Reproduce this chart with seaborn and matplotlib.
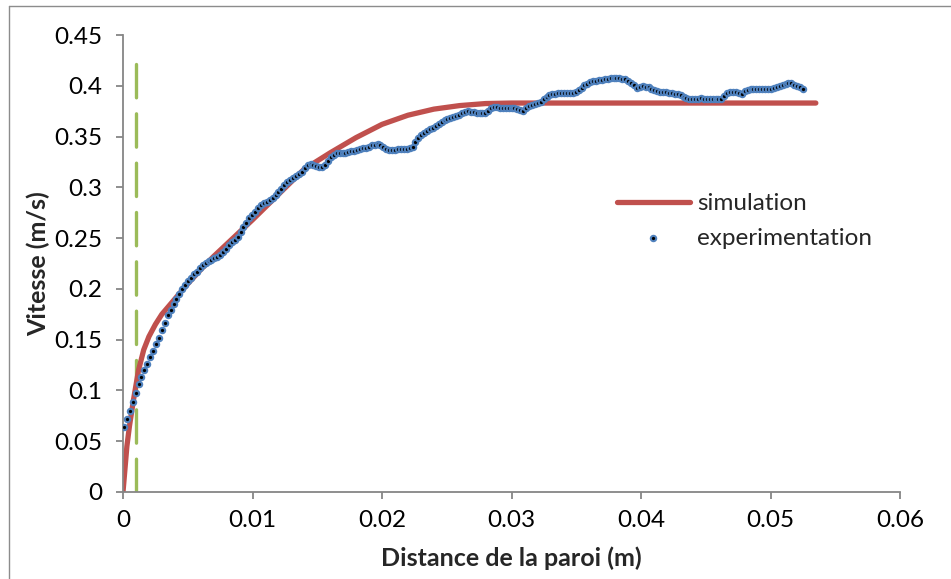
import numpy as np
import pandas as pd
import matplotlib
matplotlib.use("Agg")
import matplotlib.pyplot as plt
from matplotlib.lines import Line2D
from matplotlib.ticker import FuncFormatter
import seaborn as sns

# ---------------- data ----------------
sim_x = [0.0, 0.0001, 0.0003, 0.0005, 0.0008, 0.0012, 0.0016, 0.002, 0.0025, 0.003,
         0.004, 0.005, 0.006, 0.007, 0.008, 0.009, 0.010, 0.012, 0.014, 0.016,
         0.018, 0.020, 0.022, 0.024, 0.026, 0.028, 0.030, 0.035, 0.040, 0.045,
         0.050, 0.0535]
sim_y = [0.0, 0.015, 0.045, 0.065, 0.09, 0.12, 0.14, 0.153, 0.165, 0.175,
         0.190, 0.205, 0.219, 0.232, 0.244, 0.256, 0.268, 0.293, 0.318, 0.334,
         0.349, 0.362, 0.371, 0.377, 0.3805, 0.3825, 0.383, 0.383, 0.383, 0.383,
         0.383, 0.383]

exp_y = [
    0.064, 0.072, 0.080, 0.089, 0.097, 0.106, 0.1135, 0.120, 0.1265, 0.133,
    0.1388, 0.1455, 0.152, 0.1597, 0.1665, 0.1738, 0.1797, 0.185, 0.1903, 0.1951,
    0.1997, 0.2038, 0.2074, 0.211, 0.2142, 0.2171, 0.2201, 0.2232, 0.2256, 0.2272,
    0.2285, 0.230, 0.2318, 0.2337, 0.2362, 0.2396, 0.243, 0.2459, 0.248, 0.251,
    0.2556, 0.261, 0.2652, 0.2698, 0.2729, 0.2761, 0.280, 0.2826, 0.2845, 0.286,
    0.288, 0.2898, 0.292, 0.295, 0.2985, 0.3023, 0.3054, 0.3075, 0.3093, 0.3112,
    0.3131, 0.3154, 0.319, 0.3224, 0.323, 0.3221, 0.3209, 0.3203, 0.3205, 0.322,
    0.326, 0.3294, 0.332, 0.3335, 0.3335, 0.3339, 0.334, 0.3346, 0.3354, 0.3362,
    0.3368, 0.3377, 0.3386, 0.3392, 0.3402, 0.3412, 0.3421, 0.3425, 0.3414, 0.3394,
    0.3376, 0.3368, 0.3367, 0.337, 0.3375, 0.3377, 0.3377, 0.3377, 0.3383, 0.3398,
    0.345, 0.349, 0.3517, 0.3539, 0.3557, 0.3571, 0.3589, 0.3608, 0.3627, 0.3648,
    0.3661, 0.3672, 0.3681, 0.369, 0.370, 0.3714, 0.3731, 0.3745, 0.375, 0.3744,
    0.3738, 0.3732, 0.3729, 0.3729, 0.3735, 0.3752, 0.378, 0.3787, 0.3788, 0.3786,
    0.3784, 0.3784, 0.3784, 0.3784, 0.3782, 0.3771, 0.3758, 0.3755, 0.3783, 0.380,
    0.3812, 0.3822, 0.383, 0.3843, 0.3868, 0.389, 0.3905, 0.3918, 0.3923, 0.3926,
    0.3926, 0.3926, 0.3926, 0.3928, 0.3932, 0.394, 0.3955, 0.398, 0.4004, 0.402,
    0.4035, 0.4044, 0.4049, 0.4055, 0.406, 0.4066, 0.4071, 0.4074, 0.4074, 0.4074,
    0.4072, 0.407, 0.4062, 0.405, 0.403, 0.4003, 0.3975, 0.3984, 0.3995, 0.3992,
    0.3984, 0.3968, 0.3955, 0.3947, 0.394, 0.3938, 0.3936, 0.3932, 0.3928, 0.3923,
    0.3916, 0.3907, 0.3893, 0.3878, 0.3868, 0.3866, 0.3869, 0.3873, 0.3876, 0.3874,
    0.3872, 0.3869, 0.3866, 0.3866, 0.3866, 0.3873, 0.3895, 0.3928, 0.3937, 0.394,
    0.394, 0.393, 0.3916, 0.3948, 0.3959, 0.3965, 0.3965, 0.3965, 0.3965, 0.3965,
    0.3966, 0.3968, 0.3972, 0.3979, 0.3985, 0.3994, 0.4003, 0.4017, 0.403, 0.403,
    0.4012, 0.3998, 0.3985, 0.3967,
]
# measurement grid (evenly spaced positions from the wall)
exp_x_start = 0.000077
exp_x_end = 0.05251
exp_x = np.linspace(exp_x_start, exp_x_end, len(exp_y))

wall_x = [0.001, 0.001]
wall_y = [0.0, 0.421]

x_ticks = [0, 0.01, 0.02, 0.03, 0.04, 0.05, 0.06]
y_ticks = [0, 0.05, 0.1, 0.15, 0.2, 0.25, 0.3, 0.35, 0.4, 0.45]
x_label = "Distance de la paroi (m)"
y_label = "Vitesse (m/s)"
series_names = ["simulation", "experimentation"]

# ---------------- style ----------------
sns.set_theme(style="white")
plt.rcParams["font.family"] = ["Lato", "DejaVu Sans"]

RED = "#C0504D"
BLUE = "#4F81BD"
GREEN = "#9BBB59"
AXIS_GRAY = "#868686"
FS = 17.5

fig = plt.figure(figsize=(9.51, 5.79), dpi=100)
ax = fig.add_axes([123 / 951, 1 - 492 / 579, (900 - 123) / 951, (492 - 35) / 579])

# green dashed wall marker
ax.plot(wall_x, wall_y, color=GREEN, lw=2.4, dashes=(10, 4.8),
        dash_capstyle="round", zorder=1)

sim_df = pd.DataFrame({"x": sim_x, "y": sim_y})
exp_df = pd.DataFrame({"x": exp_x, "y": exp_y})

sns.lineplot(data=sim_df, x="x", y="y", ax=ax, color=RED, lw=3.8,
             label=series_names[0], sort=False, zorder=2,
             solid_capstyle="round")
sns.scatterplot(data=exp_df, x="x", y="y", ax=ax, color="black",
                edgecolor=BLUE, linewidth=1.5, s=15,
                label=series_names[1], zorder=3)

ax.set_xlim(0, 0.06)
ax.set_ylim(0, 0.45)
ax.xaxis.set_major_locator(plt.FixedLocator(x_ticks))
ax.yaxis.set_major_locator(plt.FixedLocator(y_ticks))
fmt = FuncFormatter(lambda v, p: f"{v:g}")
ax.xaxis.set_major_formatter(fmt)
ax.yaxis.set_major_formatter(fmt)

for side in ["top", "right"]:
    ax.spines[side].set_visible(False)
for side in ["left", "bottom"]:
    ax.spines[side].set_color(AXIS_GRAY)
    ax.spines[side].set_linewidth(1.3)

ax.tick_params(axis="both", which="major", direction="out", length=5,
               width=1.3, color=AXIS_GRAY, labelsize=FS, labelcolor="black",
               left=True, bottom=True)
ax.tick_params(axis="x", pad=8)
ax.tick_params(axis="y", pad=10)

ax.set_xlabel(x_label, fontsize=FS + 0.5, fontweight="bold", labelpad=11)
ax.set_ylabel(y_label, fontsize=FS + 0.5, fontweight="bold", labelpad=3)

ax.patch.set_alpha(0)

leg = ax.legend(loc="center left", bbox_to_anchor=(617 / 951, 1 - 221 / 579),
                bbox_transform=fig.transFigure, frameon=False, fontsize=FS,
                handlelength=3.0, handletextpad=0.3, labelspacing=0.55,
                borderpad=0, borderaxespad=0)

# outer chart border (left and top visible)
fig.add_artist(Line2D([8.5 / 951, 8.5 / 951], [0, 1 - 5.5 / 579],
                      transform=fig.transFigure, color="#8C8C8C", lw=1.0))
fig.add_artist(Line2D([8.5 / 951, 1], [1 - 5.5 / 579, 1 - 5.5 / 579],
                      transform=fig.transFigure, color="#8C8C8C", lw=1.0))

fig.savefig("out.png", dpi=100, facecolor="white")
